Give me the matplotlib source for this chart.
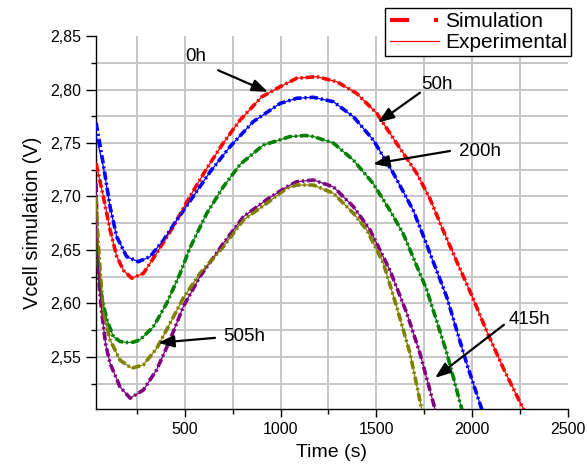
import matplotlib
matplotlib.use("Agg")
import matplotlib.pyplot as plt
from matplotlib.lines import Line2D
from matplotlib.ticker import FixedLocator, FuncFormatter

plt.rcParams['font.family'] = ['Liberation Sans', 'DejaVu Sans']
plt.rcParams['lines.scale_dashes'] = False

# ---------------- data ----------------
t_0h = [35, 73, 108, 143, 178, 221, 282, 352, 439, 526, 613, 700, 788, 900, 997,
        1084, 1188, 1293, 1397, 1502, 1606, 1711, 1780, 1850, 1911, 2000, 2077, 2170, 2275]
v_0h = [2.731, 2.700, 2.669, 2.644, 2.631, 2.6236, 2.628, 2.647, 2.672, 2.700, 2.726, 2.750,
        2.7715, 2.793, 2.8026, 2.8105, 2.812, 2.8073, 2.7964, 2.7778, 2.7497, 2.7217, 2.698,
        2.668, 2.643, 2.607, 2.574, 2.537, 2.499]

t_50h = [35, 73, 108, 143, 195, 256, 317, 387, 457, 543, 631, 735, 857, 997, 1084, 1171,
         1275, 1380, 1484, 1589, 1693, 1746, 1868, 1972, 2055]
v_50h_exp = [2.757, 2.728, 2.6905, 2.6624, 2.6437, 2.639, 2.6437, 2.659, 2.678, 2.700, 2.723,
             2.7465, 2.770, 2.787, 2.7918, 2.7927, 2.7886, 2.7746, 2.7528, 2.7217, 2.687,
             2.663, 2.606, 2.544, 2.499]
v_50h_sim = [2.769, 2.730, 2.6905, 2.6624, 2.6437, 2.639, 2.6437, 2.659, 2.678, 2.700, 2.723,
             2.7465, 2.770, 2.787, 2.7918, 2.7927, 2.7886, 2.7746, 2.7528, 2.7217, 2.687,
             2.663, 2.606, 2.544, 2.499]

t_200h = [35, 50, 65, 91, 125, 160, 195, 230, 265, 334, 404, 474, 526, 613, 700, 788, 909,
          997, 1049, 1130, 1171, 1275, 1380, 1484, 1571, 1641, 1763, 1868, 1950]
v_200h = [2.657, 2.628, 2.606, 2.585, 2.569, 2.5645, 2.5634, 2.5638, 2.566, 2.578, 2.600,
          2.628, 2.652, 2.684, 2.709, 2.730, 2.748, 2.753, 2.756, 2.757, 2.756, 2.750, 2.734,
          2.712, 2.687, 2.665, 2.613, 2.554, 2.499]

t_415h = [35, 40, 50, 65, 85, 108, 160, 213, 282, 352, 422, 491, 578, 700, 805, 927, 1032,
          1084, 1171, 1275, 1380, 1467, 1571, 1659, 1728, 1810]
v_415h = [2.712, 2.660, 2.620, 2.591, 2.562, 2.544, 2.522, 2.5114, 2.519, 2.538, 2.566,
          2.597, 2.625, 2.656, 2.681, 2.697, 2.709, 2.7138, 2.7154, 2.709, 2.6905, 2.6687,
          2.631, 2.591, 2.5535, 2.499]

t_505h = [35, 45, 56, 73, 108, 160, 221, 282, 352, 422, 491, 578, 700, 805, 927, 1032,
          1084, 1171, 1275, 1380, 1450, 1537, 1606, 1676, 1740]
v_505h = [2.700, 2.660, 2.631, 2.591, 2.566, 2.547, 2.5394, 2.5425, 2.558, 2.5815, 2.605,
          2.628, 2.653, 2.678, 2.6936, 2.7077, 2.7107, 2.7107, 2.703, 2.6843, 2.6687, 2.6376,
          2.597, 2.5535, 2.499]

series = [
    ("0h", t_0h, v_0h, v_0h, "#ff0000"),
    ("50h", t_50h, v_50h_sim, v_50h_exp, "#0000ff"),
    ("200h", t_200h, v_200h, v_200h, "#008000"),
    ("415h", t_415h, v_415h, v_415h, "#800080"),
    ("505h", t_505h, v_505h, v_505h, "#808000"),
]

x_major = [500, 1000, 1500, 2000, 2500]
x_minor = [250, 750, 1250, 1750, 2250]
y_major = [2.55, 2.60, 2.65, 2.70, 2.75, 2.80, 2.85]
y_minor = [2.525, 2.575, 2.625, 2.675, 2.725, 2.775, 2.825]

# annotations: label, text position, arrow tail, arrow tip
notes = [
    ("0h", (558, 2.8305), (673, 2.818), (934, 2.7977)),
    ("50h", (1817, 2.805), (1728, 2.797), (1509, 2.769)),
    ("200h", (2042, 2.7416), (1885, 2.7425), (1483, 2.7304)),
    ("415h", (2303, 2.5846), (2167, 2.580), (1807, 2.5304)),
    ("505h", (809, 2.5687), (657, 2.5678), (359, 2.5632)),
]

# ---------------- figure ----------------
fig = plt.figure(figsize=(5.87, 4.74), dpi=100)
ax = fig.add_axes([0.163, 0.1365, 0.804, 0.7875])

sim_dash = (0, (6, 2.2, 1.5, 2.2))
for name, t, vs, ve, c in series:
    ax.plot(t, vs, color=c, lw=2.6, linestyle=sim_dash, zorder=3)
    ax.plot(t, ve, color=c, lw=0.9, zorder=4)

ax.set_xlim(33, 2500)
ax.set_ylim(2.501, 2.85)

ax.xaxis.set_major_locator(FixedLocator(x_major))
ax.xaxis.set_minor_locator(FixedLocator(x_minor))
ax.yaxis.set_major_locator(FixedLocator(y_major))
ax.yaxis.set_minor_locator(FixedLocator(y_minor))
ax.yaxis.set_major_formatter(FuncFormatter(lambda v, p: f"{v:.2f}".replace('.', ',')))

ax.grid(True, which='both', color='#c6c6c6', lw=1.4, zorder=0)
ax.set_axisbelow(True)
for s in ['top', 'right']:
    ax.spines[s].set_visible(False)
for s in ['left', 'bottom']:
    ax.spines[s].set_linewidth(1.0)

ax.tick_params(which='major', direction='out', length=6, width=1.0, labelsize=11.5, colors='black')
ax.tick_params(which='minor', direction='out', length=3.5, width=1.0)
ax.tick_params(axis='y', which='major', length=7)

fig.canvas.draw()
ax.xaxis.get_major_ticks()[-1].gridline.set_visible(False)
ax.yaxis.get_major_ticks()[-1].gridline.set_visible(False)

ax.set_xlabel("Time (s)", fontsize=14, labelpad=5)
ax.set_ylabel("Vcell simulation (V)", fontsize=14.5, labelpad=6)

for label, tp, tail, tip in notes:
    ax.annotate('', xy=tip, xytext=tail,
                arrowprops=dict(arrowstyle='-|>,head_length=0.8,head_width=0.3',
                                color='black', lw=1.6, mutation_scale=12,
                                shrinkA=0, shrinkB=0), zorder=6)
    ax.text(tp[0], tp[1], label, fontsize=13.5, ha='center', va='center', zorder=6)

h_sim = Line2D([0], [0], color='#ff0000', lw=3, linestyle=(0, (13.7, 18, 2.9, 18)))
h_exp = Line2D([0], [0], color='#ff0000', lw=0.9)
leg = fig.legend([h_sim, h_exp], ["Simulation", "Experimental"], loc='upper right',
                 bbox_to_anchor=(0.973, 0.983), bbox_transform=fig.transFigure,
                 fontsize=15, frameon=True, fancybox=False, framealpha=1,
                 edgecolor='black', borderpad=0.2, labelspacing=0.1,
                 handlelength=2.35, handletextpad=0.3, borderaxespad=0)
leg.get_frame().set_linewidth(1.0)

fig.savefig("out.png", dpi=100)
